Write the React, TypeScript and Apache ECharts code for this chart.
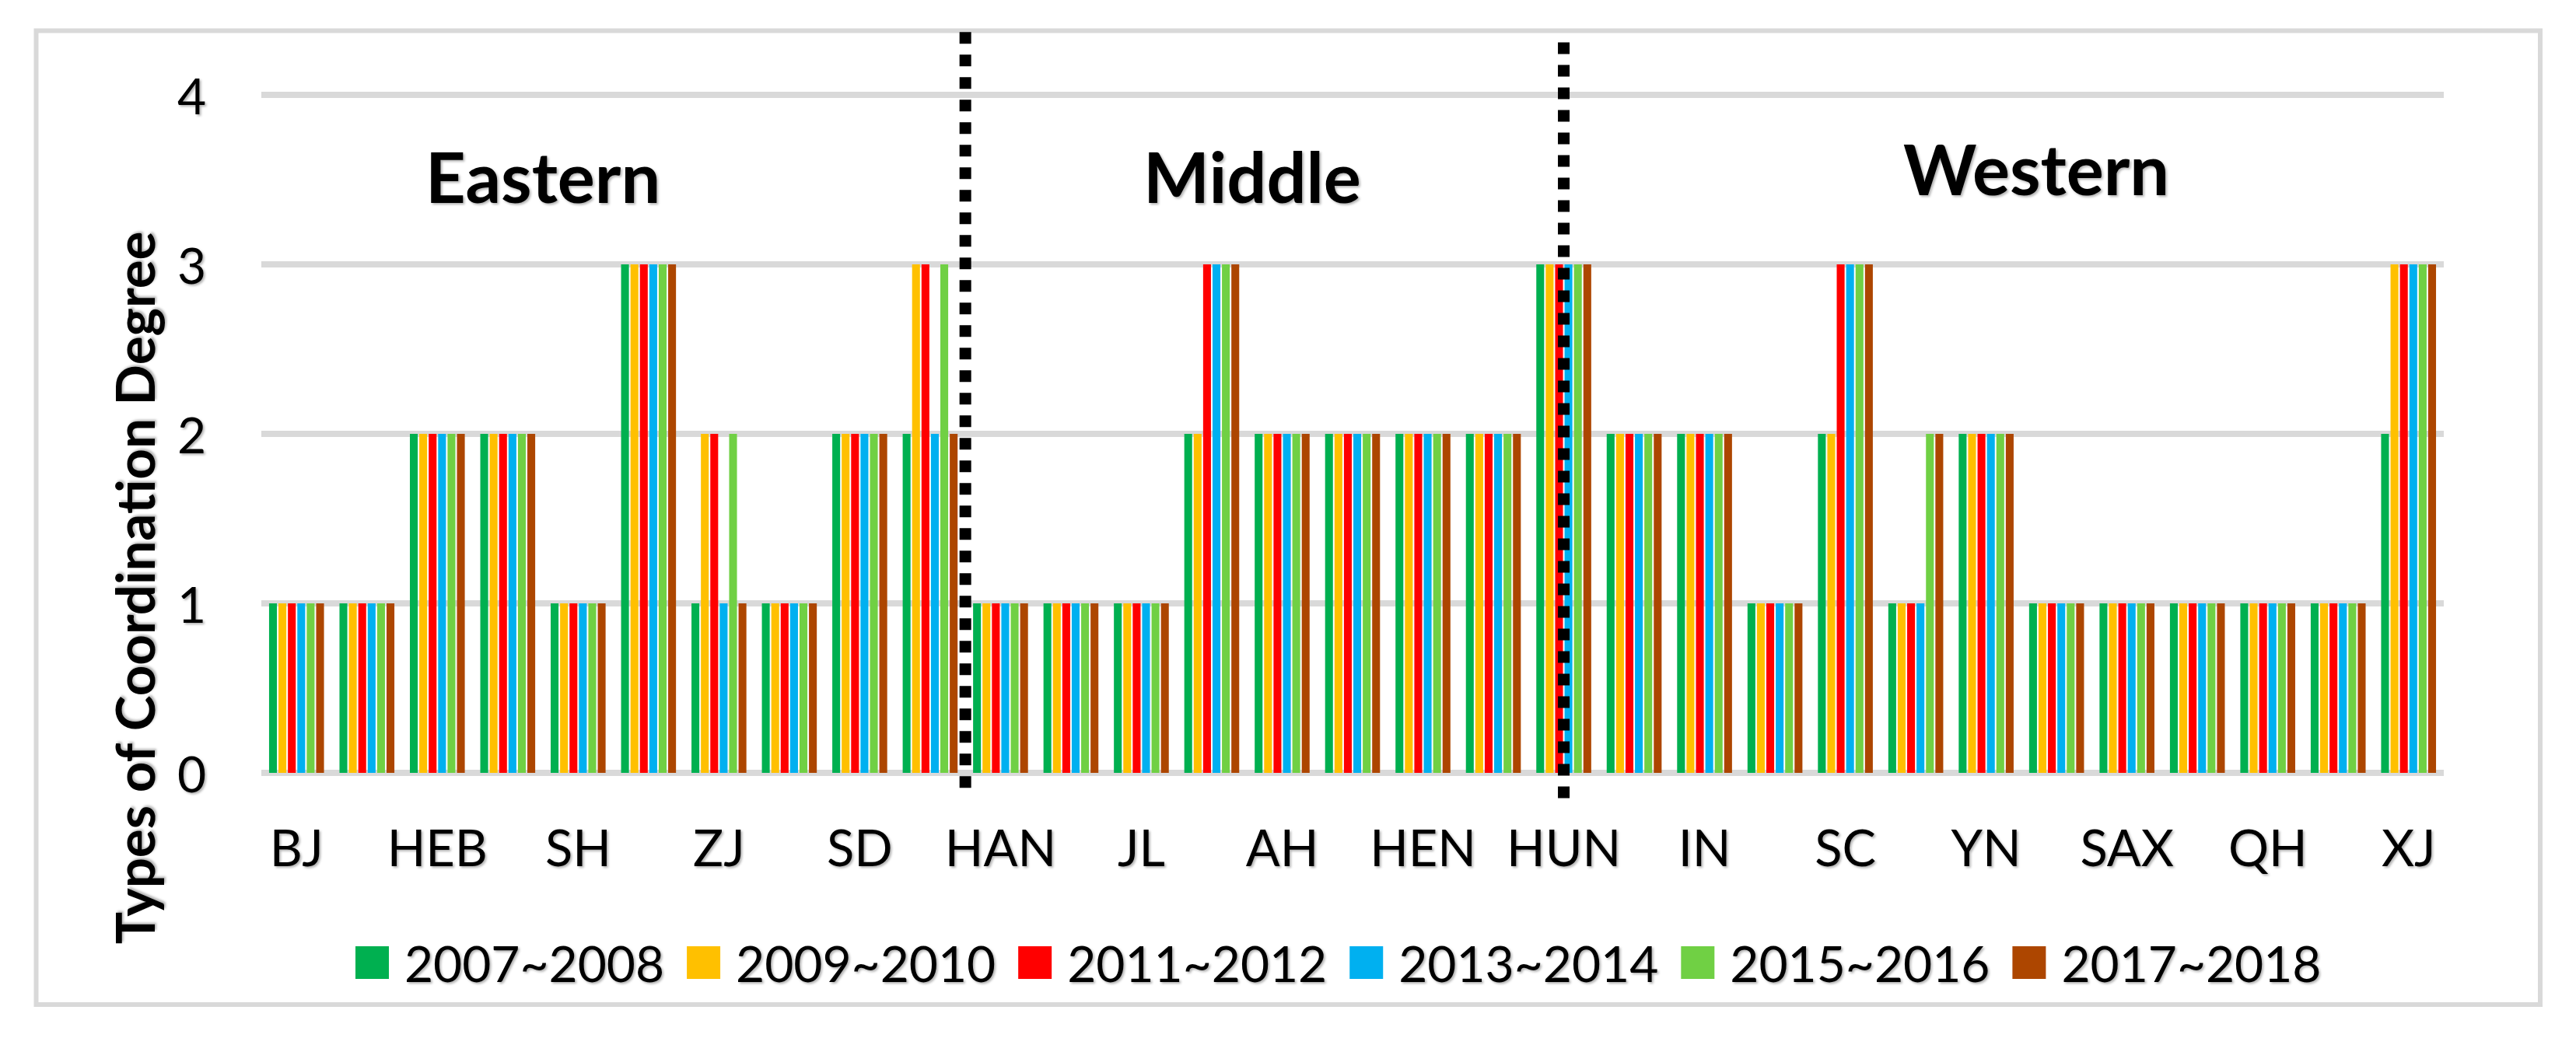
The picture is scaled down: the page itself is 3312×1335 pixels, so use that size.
import React, { useEffect, useRef } from "react";
import * as echarts from "echarts";

// Provinces (only every other label is shown on the axis)
const provinces = [
  "BJ", "TJ", "HEB", "LN", "SH", "JS", "ZJ", "FJ", "SD", "GD",
  "HAN", "SX", "JL", "HLJ", "AH", "JX", "HEN", "HUB", "HUN",
  "GX", "IN", "CQ", "SC", "GZ", "YN", "XZ", "SAX", "GS", "QH", "NX", "XJ",
];

const periods = ["2007~2008", "2009~2010", "2011~2012", "2013~2014", "2015~2016", "2017~2018"];

const v2007 = [1, 1, 2, 2, 1, 3, 1, 1, 2, 2, 1, 1, 1, 2, 2, 2, 2, 2, 3, 2, 2, 1, 2, 1, 2, 1, 1, 1, 1, 1, 2];
const v2009 = [1, 1, 2, 2, 1, 3, 2, 1, 2, 3, 1, 1, 1, 2, 2, 2, 2, 2, 3, 2, 2, 1, 2, 1, 2, 1, 1, 1, 1, 1, 3];
const v2011 = [1, 1, 2, 2, 1, 3, 2, 1, 2, 3, 1, 1, 1, 3, 2, 2, 2, 2, 3, 2, 2, 1, 3, 1, 2, 1, 1, 1, 1, 1, 3];
const v2013 = [1, 1, 2, 2, 1, 3, 1, 1, 2, 2, 1, 1, 1, 3, 2, 2, 2, 2, 3, 2, 2, 1, 3, 1, 2, 1, 1, 1, 1, 1, 3];
const v2015 = [1, 1, 2, 2, 1, 3, 2, 1, 2, 3, 1, 1, 1, 3, 2, 2, 2, 2, 3, 2, 2, 1, 3, 2, 2, 1, 1, 1, 1, 1, 3];
const v2017 = [1, 1, 2, 2, 1, 3, 1, 1, 2, 2, 1, 1, 1, 3, 2, 2, 2, 2, 3, 2, 2, 1, 3, 2, 2, 1, 1, 1, 1, 1, 3];

const seriesValues = [v2007, v2009, v2011, v2013, v2015, v2017];
const colors = ["#00B050", "#FFC000", "#FF0000", "#00B0F0", "#70D044", "#AD4600"];

const yTicks = { min: 0, max: 4, interval: 1 };
const yTitle = "Types of Coordination Degree";
const regions = ["Eastern", "Middle", "Western"];

const FONT = "Lato, 'Open Sans', sans-serif";
const shadow = {
  textShadowColor: "rgba(0,0,0,0.3)",
  textShadowBlur: 3,
  textShadowOffsetX: 2,
  textShadowOffsetY: 2,
};

export default function App() {
  const ref = useRef<HTMLDivElement>(null);

  useEffect(() => {
    const chart = echarts.init(ref.current!, null, { renderer: "svg" });
    chart.setOption({
      animation: false,
      backgroundColor: "#ffffff",
      grid: { left: 336, right: 170, top: 122, bottom: 341, containLabel: false },
      legend: {
        data: periods,
        left: 452,
        top: 1201,
        icon: "rect",
        itemWidth: 43,
        itemHeight: 42,
        itemGap: 29,
        textStyle: {
          fontSize: 64,
          fontFamily: FONT,
          color: "#000",
          lineHeight: 42,
          padding: [0, 0, 0, 15],
          ...shadow,
        },
      },
      xAxis: {
        type: "category",
        data: provinces,
        axisLine: { show: false },
        axisTick: { show: false },
        axisLabel: {
          interval: 1,
          fontSize: 65,
          fontFamily: FONT,
          color: "#000",
          margin: 62,
          ...shadow,
        },
      },
      yAxis: {
        type: "value",
        min: yTicks.min,
        max: yTicks.max,
        interval: yTicks.interval,
        axisLine: { show: false },
        axisTick: { show: false },
        axisLabel: {
          fontSize: 64,
          fontFamily: FONT,
          color: "#000",
          margin: 71,
          ...shadow,
        },
        splitLine: { lineStyle: { color: "#D9D9D9", width: 8 } },
      },
      series: periods.map((name, i) => ({
        name,
        type: "bar",
        data: seriesValues[i],
        itemStyle: { color: colors[i] },
        barGap: "20%",
        barCategoryGap: "22%",
      })),
    });

    const px = (v: number) => chart.convertToPixel({ xAxisIndex: 0 }, v) as number;
    const py = (v: number) => chart.convertToPixel({ yAxisIndex: 0 }, v) as number;
    const div1 = (px(9) + px(10)) / 2;
    const div2 = px(18);

    chart.setOption({
      graphic: [
        {
          type: "rect",
          shape: { x: 46.5, y: 39.5, width: 3219.5, height: 1252.5 },
          style: { fill: "none", stroke: "#D9D9D9", lineWidth: 6 },
          silent: true,
        },
        {
          type: "line",
          shape: { x1: div1, y1: py(4.37), x2: div1, y2: py(-0.13) },
          style: { stroke: "#000", lineWidth: 15, lineDash: [15, 14] },
          z: 100,
        },
        {
          type: "line",
          shape: { x1: div2, y1: py(4.31), x2: div2, y2: py(-0.17) },
          style: { stroke: "#000", lineWidth: 15, lineDash: [15, 14] },
          z: 100,
        },
        {
          type: "text",
          x: 172,
          y: 756,
          rotation: Math.PI / 2,
          style: {
            text: yTitle,
            font: `bold 69px ${FONT}`,
            fill: "#000",
            textAlign: "center",
            textVerticalAlign: "middle",
            ...shadow,
          },
        },
        {
          type: "text",
          x: 698,
          y: 226,
          style: { text: regions[0], font: `bold 90px ${FONT}`, fill: "#000", textAlign: "center", textVerticalAlign: "middle", ...shadow },
        },
        {
          type: "text",
          x: 1610,
          y: 226,
          style: { text: regions[1], font: `bold 90px ${FONT}`, fill: "#000", textAlign: "center", textVerticalAlign: "middle", ...shadow },
        },
        {
          type: "text",
          x: 2618,
          y: 216,
          style: { text: regions[2], font: `bold 90px ${FONT}`, fill: "#000", textAlign: "center", textVerticalAlign: "middle", ...shadow },
        },
      ],
    });

    return () => chart.dispose();
  }, []);

  return (
    <div
      ref={ref}
      style={{ position: "absolute", left: 0, top: 0, width: 3312, height: 1335 }}
    />
  );
}
